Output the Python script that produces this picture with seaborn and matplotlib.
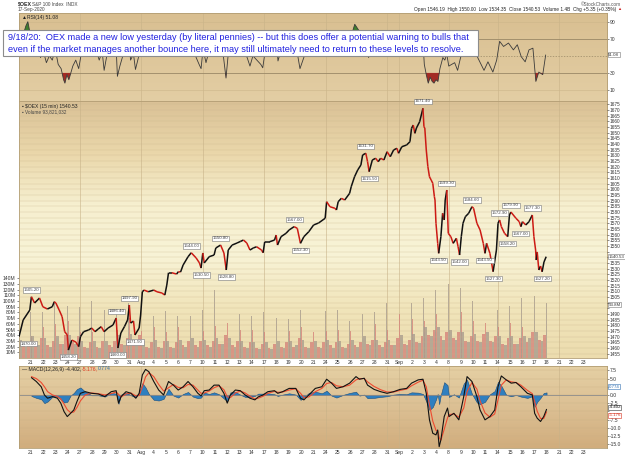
import numpy as np
import seaborn as sns
import matplotlib.pyplot as plt
from matplotlib.collections import LineCollection
from matplotlib.colors import LinearSegmentedColormap
from matplotlib.patches import Rectangle

sns.set_style("white")
plt.rcParams['font.family'] = ['Liberation Sans', 'DejaVu Sans']

# trading days on the axis, Jul 20 .. Sep 23 (index = day position)
day_labels = ["", "21", "22", "23", "24", "27", "28", "29", "30", "31",
              "Aug", "4", "5", "6", "7", "10", "11", "12", "13", "14",
              "17", "18", "19", "20", "21", "24", "25", "26", "27", "28",
              "31", "Sep", "2", "3", "4", "8", "9", "10", "11", "14",
              "15", "16", "17", "18", "21", "22", "23"]
grid_days = [5, 10, 15, 20, 25, 30, 31, 35, 39, 44]

# OEX 15-min path (time in trading days)
price_t = [0.04, 0.38, 0.92, 1.05, 1.31, 1.71, 1.98, 2.35, 2.75, 2.91,
           3.04, 3.31, 3.55, 3.76, 3.97, 4.06, 4.34, 4.66, 4.90, 5.04,
           5.30, 5.70, 5.96, 6.23, 6.49, 6.73, 6.97, 7.29, 7.69, 7.95,
           8.09, 8.33, 8.62, 8.88, 9.02, 9.12, 9.36, 9.48, 9.82, 9.94,
           10.08, 10.22, 10.56, 11.01, 11.27, 11.67, 11.91, 12.07, 12.21, 12.47,
           12.87, 13.01, 13.19, 13.40, 13.80, 14.06, 14.46, 14.73, 14.86, 15.00,
           15.12, 15.52, 15.92, 16.06, 16.45, 16.72, 16.91, 17.07, 17.39, 17.79,
           18.05, 18.31, 18.58, 18.84, 19.11, 19.38, 19.78, 19.91, 20.04, 20.44,
           20.84, 20.97, 21.08, 21.37, 21.77, 22.03, 22.43, 22.69, 22.95, 23.23,
           23.63, 24.02, 24.42, 24.96, 25.08, 25.35, 25.75, 25.88, 26.02, 26.28,
           26.55, 26.95, 27.08, 27.35, 27.61, 27.87, 28.01, 28.27, 28.41, 28.54,
           28.80, 29.07, 29.28, 29.47, 29.74, 30.00, 30.26, 30.53, 30.80, 30.93,
           31.20, 31.59, 31.86, 31.99, 32.13, 32.26, 32.39, 32.65, 32.92, 33.00,
           33.07, 33.19, 33.32, 33.45, 33.59, 33.72, 33.85, 33.90, 33.98, 34.12,
           34.20, 34.38, 34.52, 34.65, 34.73, 34.86, 34.98, 35.19, 35.38, 35.64,
           35.78, 35.90, 36.04, 36.18, 36.37, 36.64, 36.91, 37.04, 37.31, 37.57,
           37.83, 37.97, 38.10, 38.37, 38.63, 38.90, 39.03, 39.16, 39.30, 39.56,
           39.82, 39.96, 40.08, 40.49, 40.76, 40.89, 41.02, 41.29, 41.55, 41.82,
           41.95, 42.09, 42.14, 42.22, 42.35, 42.49, 42.62, 42.77, 42.95]
price_v = [1470.0, 1484.7, 1493.5, 1505.2, 1499.7, 1504.1, 1496.4, 1494.4, 1496.4, 1500.8,
           1499.7, 1493.5, 1487.6, 1474.4, 1471.5, 1458.2, 1467.0, 1465.3, 1461.2, 1470.0,
           1474.4, 1475.9, 1477.6, 1474.4, 1476.8, 1478.8, 1474.4, 1477.6, 1480.3, 1486.4,
           1460.0, 1473.2, 1478.8, 1484.7, 1497.9, 1482.0, 1483.8, 1471.5, 1477.6, 1489.1,
           1509.6, 1511.1, 1509.6, 1511.1, 1509.6, 1508.5, 1506.7, 1515.5, 1526.4, 1526.4,
           1525.2, 1527.3, 1527.0, 1533.2, 1540.5, 1544.0, 1539.4, 1535.0, 1530.5, 1543.8,
           1535.0, 1540.5, 1542.0, 1548.2, 1550.8, 1543.8, 1528.8, 1546.4, 1550.8, 1552.6,
           1553.9, 1555.2, 1552.6, 1546.4, 1548.2, 1549.3, 1546.4, 1544.0, 1553.7, 1553.7,
           1555.2, 1559.6, 1550.8, 1558.2, 1561.1, 1564.1, 1567.0, 1565.6, 1552.3, 1558.2,
           1562.6, 1568.5, 1570.2, 1574.4, 1589.0, 1584.6, 1583.2, 1581.7, 1589.0, 1592.0,
           1590.5, 1596.4, 1602.2, 1611.0, 1617.0, 1621.4, 1630.2, 1631.7, 1624.3, 1615.5,
           1625.8, 1627.3, 1624.3, 1627.3, 1625.8, 1633.1, 1628.7, 1634.6, 1636.1, 1631.7,
           1637.5, 1639.0, 1641.9, 1653.7, 1656.6, 1649.3, 1654.0, 1659.5, 1671.4, 1655.1,
           1654.0, 1634.6, 1619.9, 1611.0, 1608.1, 1605.2, 1593.4, 1590.5, 1570.0, 1552.3,
           1543.5, 1558.2, 1578.8, 1572.9, 1590.5, 1599.3, 1561.1, 1558.2, 1552.3, 1556.7,
           1549.3, 1542.0, 1558.2, 1570.0, 1575.8, 1578.8, 1584.6, 1583.2, 1570.0, 1564.1,
           1552.3, 1543.5, 1552.3, 1543.5, 1527.3, 1546.4, 1570.0, 1572.9, 1567.0, 1561.1,
           1558.2, 1577.3, 1579.9, 1574.4, 1571.4, 1567.0, 1571.4, 1568.5, 1571.4, 1577.3,
           1558.2, 1546.4, 1537.6, 1544.7, 1528.8, 1532.3, 1527.2, 1535.8, 1540.53]
high_idx = [3, 29, 34, 55, 64, 86, 107, 128, 145, 156, 167, 172, 179]
low_idx = [0, 15, 30, 37, 58, 66, 88, 109, 140, 151, 161, 164, 170, 175, 186]

# volume per day (millions): opening bar, morning, midday, early pm, late pm, closing bar
vol_open = [41, 39, 54, 59, 65, 45, 45, 47, 50, 71, 47, 54, 45, 54, 57, 47, 57, 62, 50, 50, 45, 50,
            47, 54, 45, 47, 50, 47, 50, 59, 50, 77, 68, 65, 77, 91, 80, 65, 62, 54, 62, 54, 68]
vol_early = [32, 38, 35, 38, 40, 30, 30, 30, 40, 42, 30, 32, 30, 32, 35, 32, 35, 35, 30, 28, 28, 30,
             30, 32, 30, 32, 30, 32, 38, 32, 32, 40, 42, 55, 55, 50, 45, 42, 45, 38, 38, 38, 45]
vol_mid1 = [22, 25, 22, 25, 28, 20, 20, 22, 25, 30, 20, 20, 20, 22, 22, 22, 25, 22, 20, 18, 18, 20,
            20, 20, 20, 22, 20, 22, 25, 22, 22, 25, 28, 40, 38, 35, 30, 30, 30, 25, 25, 28, 32]
vol_mid2 = [20, 22, 20, 25, 25, 18, 18, 20, 22, 28, 18, 18, 18, 20, 20, 20, 25, 20, 18, 16, 16, 18,
            22, 18, 18, 18, 18, 20, 22, 20, 22, 22, 26, 38, 32, 32, 28, 28, 28, 22, 25, 35, 30]
vol_late = [28, 35, 30, 40, 38, 28, 30, 30, 35, 40, 28, 30, 28, 30, 30, 30, 40, 30, 28, 25, 25, 28,
            35, 28, 28, 28, 25, 28, 32, 28, 35, 32, 38, 50, 45, 45, 38, 42, 38, 35, 35, 45, 40]
vol_close = [80, 80, 100, 91, 89, 100, 85, 82, 97, 91, 74, 82, 74, 74, 85, 120, 106, 77, 74, 80, 71, 68,
             85, 85, 82, 85, 65, 77, 80, 97, 120, 97, 106, 120, 129, 123, 100, 97, 85, 91, 106, 109, 97]

# RSI(14)
rsi_t = [0.04, 0.28, 0.60, 0.76, 0.92, 1.08, 1.31, 1.55, 1.79, 2.03,
         2.27, 2.51, 2.75, 2.99, 3.23, 3.47, 3.67, 3.78, 3.94, 4.10,
         4.26, 4.42, 4.66, 4.90, 5.14, 5.38, 5.62, 5.86, 6.10, 6.33,
         6.57, 6.81, 6.97, 7.21, 7.45, 7.69, 7.93, 8.05, 8.25, 8.49,
         8.73, 8.96, 9.12, 9.36, 9.52, 9.76, 9.92, 10.08, 10.32, 10.64,
         10.96, 11.27, 11.59, 11.91, 12.07, 12.23, 12.55, 12.87, 13.19, 13.51,
         13.82, 14.14, 14.46, 14.70, 14.86, 15.02, 15.26, 15.50, 15.82, 16.06,
         16.37, 16.69, 16.89, 17.09, 17.41, 17.73, 18.05, 18.37, 18.61, 18.84,
         19.08, 19.40, 19.72, 19.88, 20.12, 20.44, 20.76, 21.00, 21.12, 21.39,
         21.71, 22.03, 22.35, 22.67, 22.91, 23.15, 23.39, 23.71, 24.02, 24.34,
         24.82, 25.06, 25.30, 25.62, 25.86, 26.10, 26.41, 26.73, 27.05, 27.37,
         27.69, 28.01, 28.25, 28.49, 28.80, 29.12, 29.44, 29.68, 30.00, 30.32,
         30.56, 30.88, 31.20, 31.59, 31.83, 31.99, 32.31, 32.63, 32.87, 33.03,
         33.19, 33.35, 33.51, 33.67, 33.82, 33.98, 34.14, 34.30, 34.54, 34.70,
         34.86, 35.02, 35.26, 35.50, 35.74, 35.98, 36.22, 36.53, 36.77, 37.09,
         37.41, 37.89, 38.21, 38.61, 38.92, 39.16, 39.48, 39.88, 40.28, 40.60,
         40.92, 41.24, 41.55, 41.87, 42.11, 42.35, 42.67, 42.91]
rsi_v = [55, 70, 85, 90, 78, 60, 55, 62, 48, 55,
         42, 50, 45, 58, 40, 35, 22, 18, 28, 22,
         30, 38, 45, 35, 55, 60, 52, 58, 50, 56,
         45, 55, 33, 52, 58, 62, 66, 26, 38, 50,
         58, 75, 45, 52, 34, 48, 62, 80, 70, 60,
         62, 58, 52, 50, 72, 78, 62, 55, 60, 68,
         70, 62, 48, 40, 35, 58, 42, 55, 52, 62,
         65, 48, 24, 55, 60, 58, 62, 55, 48, 38,
         50, 45, 40, 36, 60, 58, 62, 66, 44, 58,
         62, 65, 68, 55, 35, 45, 55, 58, 64, 62,
         66, 80, 60, 55, 50, 62, 58, 64, 72, 87,
         80, 78, 75, 48, 58, 55, 60, 55, 65, 55,
         62, 55, 60, 62, 62, 75, 65, 72, 78, 40,
         28, 18, 25, 20, 18, 22, 20, 35, 48, 45,
         52, 38, 40, 42, 33, 48, 55, 57, 65, 57,
         47, 33, 43, 31, 45, 67, 61, 65, 57, 63,
         49, 43, 57, 59, 20, 31, 28, 51.08]

# MACD(12,26,9) and its signal line
macd_t = [1.05, 1.45, 1.85, 2.11, 2.37, 2.77, 3.17, 3.44, 3.71, 3.97,
          4.24, 4.50, 4.76, 5.04, 5.43, 5.96, 6.49, 7.03, 7.55, 7.95,
          8.14, 8.35, 8.75, 9.15, 9.55, 9.82, 10.08, 10.34, 10.61, 11.01,
          11.41, 11.81, 12.21, 12.61, 13.00, 13.40, 13.80, 14.20, 14.60, 14.86,
          15.12, 15.52, 15.92, 16.32, 16.72, 16.99, 17.25, 17.65, 18.05, 18.45,
          18.84, 19.24, 19.51, 19.90, 20.30, 20.84, 21.10, 21.50, 22.03, 22.57,
          22.96, 23.23, 23.63, 24.16, 24.69, 25.08, 25.48, 25.88, 26.41, 26.95,
          27.47, 27.75, 28.14, 28.41, 28.94, 29.47, 30.00, 30.53, 31.06, 31.59,
          31.99, 32.53, 32.92, 33.19, 33.45, 33.72, 33.98, 34.12, 34.24, 34.38,
          34.65, 34.92, 35.04, 35.44, 35.84, 36.24, 36.51, 36.91, 37.31, 37.57,
          37.97, 38.37, 38.76, 39.03, 39.30, 39.70, 40.10, 40.49, 40.89, 41.42,
          41.82, 42.01, 42.22, 42.49, 42.75, 42.98]
macd_v = [5.3, 4.1, 2.5, 0.0, -1.0, -0.5, -1.0, -2.5, -5.1, -6.6,
          -5.6, -4.6, -2.0, 0.5, 1.0, 0.5, 0.3, -0.5, 1.0, 1.3,
          -2.5, -0.5, 1.0, 0.5, -1.0, 0.5, 6.1, 7.8, 7.1, 4.1,
          1.5, 0.0, 4.1, 3.0, 1.5, 2.5, 4.1, 2.5, 0.5, -0.3,
          1.3, 1.5, 3.0, 3.0, 0.5, -2.5, 0.0, 1.5, 1.3, 0.0,
          -1.0, -1.5, -0.6, 0.0, 1.0, 1.3, 0.5, 1.0, 2.0, 2.0,
          -1.0, -1.5, 0.0, 2.0, 2.5, 4.8, 3.6, 2.0, 2.5, 3.6,
          5.6, 4.8, 5.1, 3.0, 1.7, 1.0, 0.5, 1.0, 1.7, 2.0,
          3.6, 4.6, 4.8, 0.5, -7.6, -11.7, -12.2, -10.7, -15.8, -13.7,
          -6.6, -4.0, -6.6, -5.6, -7.6, -0.5, 5.6, 4.1, -0.5, -4.6,
          -7.6, -6.6, -4.6, 2.5, 5.8, 4.6, 3.6, 3.8, 2.5, 0.5,
          0.0, -5.6, -7.1, -8.1, -6.6, -4.402]
sig_v = [5.6, 5.0, 3.8, 2.5, 1.0, 0.0, -0.5, -1.2, -2.8, -4.5,
         -5.4, -5.2, -3.8, -1.8, 0.0, 0.6, 0.4, 0.0, 0.4, 0.9,
         0.2, -0.6, 0.3, 0.6, -0.3, -0.2, 2.5, 5.5, 6.8, 5.6,
         3.2, 1.2, 2.2, 3.2, 2.3, 2.2, 3.2, 3.0, 1.5, 0.5,
         0.6, 1.2, 2.2, 2.8, 1.6, -0.6, -0.8, 0.6, 1.2, 0.6,
         -0.4, -1.2, -1.0, -0.4, 0.5, 1.1, 0.8, 0.9, 1.5, 1.9,
         0.5, -0.8, -0.6, 1.0, 2.0, 3.5, 3.8, 2.8, 2.5, 3.0,
         4.6, 5.0, 5.0, 4.0, 2.6, 1.6, 0.9, 0.9, 1.4, 1.8,
         2.8, 3.9, 4.5, 2.5, -3.0, -8.0, -10.8, -11.0, -13.0, -13.8,
         -10.5, -7.0, -6.0, -5.8, -6.8, -4.0, 1.0, 3.8, 1.8, -1.8,
         -5.5, -6.8, -5.8, -1.5, 3.0, 4.6, 4.0, 3.8, 3.0, 1.4,
         0.4, -2.0, -5.0, -7.2, -7.2, -5.176]

note_lines = ["9/18/20:  OEX made a new low yesterday (by literal pennies) -- but this does offer a potential warning to bulls that",
              "even if the market manages another bounce here, it may still ultimately need to return to these levels to resolve."]

W, H = 625, 462
X0, X1 = 18.5, 607
fig = plt.figure(figsize=(W / 100, H / 100), dpi=100)
fig.patch.set_facecolor("white")


def px(x):
    return x / W


def py(y):
    return 1 - y / H


def panel(top, bottom):
    return fig.add_axes([px(X0), py(bottom), (X1 - X0) / W, (bottom - top) / H])


def shade(ax, colors):
    cmap = LinearSegmentedColormap.from_list("bg", colors)
    grad = np.linspace(0, 1, 256).reshape(-1, 1)
    ax.imshow(grad, cmap=cmap, aspect="auto", extent=[0, 1, 0, 1],
              transform=ax.transAxes, zorder=0, origin="upper")


def dress(ax):
    for s in ax.spines.values():
        s.set_color("#b29d74")
        s.set_linewidth(0.6)
    for d in grid_days:
        ax.axvline(d, color="#c8b288", lw=0.5, alpha=0.8, zorder=1)
    ax.tick_params(labelsize=3.6, length=1.2, width=0.4, pad=1, colors="#333333")


def side_box(ax, text, yval, col="#333333", ec="#777777"):
    ax.annotate(text, xy=(1.0, yval), xycoords=("axes fraction", "data"),
                xytext=(1, 0), textcoords="offset points", fontsize=3.2, va="center",
                color=col, annotation_clip=False, zorder=6,
                bbox=dict(boxstyle="square,pad=0.12", fc="white", ec=ec, lw=0.4))


xlim = (0, 47.9)
box_kw = dict(boxstyle="square,pad=0.15", fc="white", ec="#777777", lw=0.4)

# ---- RSI panel
ax_rsi = panel(13, 101)
shade(ax_rsi, ["#d9bf91", "#e3cea4"])
dress(ax_rsi)
for lvl in [10, 90]:
    ax_rsi.axhline(lvl, color="#cdb68a", lw=0.4, zorder=1)
for lvl in [30, 70]:
    ax_rsi.axhline(lvl, color="#9a8866", lw=0.6, zorder=1)
ax_rsi.axhline(50, color="#9a8866", lw=0.5, ls=(0, (2, 2)), zorder=1)
rv = np.array(rsi_v)
ax_rsi.fill_between(rsi_t, rv, 70, where=rv > 70, interpolate=True, color="#3f7f2e", lw=0, zorder=2)
ax_rsi.fill_between(rsi_t, rv, 30, where=rv < 30, interpolate=True, color="#a32b24", lw=0, zorder=2)
sns.lineplot(x=rsi_t, y=rsi_v, ax=ax_rsi, color="#3a3a3a", lw=0.6, estimator=None, sort=False, zorder=3)
ax_rsi.set_xlim(*xlim)
ax_rsi.set_ylim(-2.9, 100.2)
ax_rsi.yaxis.tick_right()
ax_rsi.set_yticks([10, 30, 70, 90])
ax_rsi.set_xticks([])
ax_rsi.set_xlabel("")
ax_rsi.set_ylabel("")
side_box(ax_rsi, f"{rsi_v[-1]:.2f}", rsi_v[-1])
ax_rsi.text(0.006, 0.975, "\u25b2RSI(14) 51.08", transform=ax_rsi.transAxes, fontsize=3.6,
            va="top", color="#222222")

# ---- price + volume panel
ax_vol = panel(101, 358)
shade(ax_vol, ["#dac196", "#ead7aa", "#f6efcf", "#f8f3d6", "#f1e5bb", "#ecdcae"])
dress(ax_vol)
block_edges = [0, 1 / 26, 7 / 26, 13 / 26, 19 / 26, 25 / 26, 1]
blocks = [vol_open, vol_early, vol_mid1, vol_mid2, vol_late, vol_close]
block_cols = ["#d5837a", "#a89c8e", "#d5837a", "#a89c8e", "#d5837a", "#a89c8e"]
days = np.arange(len(vol_open))
for k, vals in enumerate(blocks):
    left = days + block_edges[k]
    width = block_edges[k + 1] - block_edges[k]
    if k == 0:
        width = 0.07
    if k == 5:
        left = days + 1 - 0.07
        width = 0.07
    ax_vol.bar(left, vals, width=width, align="edge", color=block_cols[k], alpha=0.8,
               linewidth=0, zorder=2)
ax_vol.set_ylim(0, 451)
ax_vol.set_yticks(range(10, 141, 10))
ax_vol.set_yticklabels([f"{v}M" for v in range(10, 141, 10)])
ax_vol.set_xlim(*xlim)
ax_vol.set_xticks(range(len(day_labels)))
ax_vol.set_xticklabels(day_labels)
ax_vol.tick_params(axis="x", length=0, pad=1.5)

ax_px = ax_vol.twinx()
ax_px.set_ylim(1451.2, 1677.8)
price_ticks = list(range(1455, 1676, 5))
ax_px.set_yticks(price_ticks)
# the last-value boxes sit on top of these rows
ax_px.set_yticklabels(["" if p in (1495, 1500, 1540, 1545) else str(p) for p in price_ticks])
ax_px.grid(axis="y", color="#c9b58c", lw=0.35, alpha=0.6)
ax_px.tick_params(labelsize=3.4, length=1.2, width=0.4, pad=1, colors="#333333")
for s in ax_px.spines.values():
    s.set_visible(False)
pt = np.array(price_t)
pv = np.array(price_v)
segs = np.stack([np.column_stack([pt[:-1], pv[:-1]]), np.column_stack([pt[1:], pv[1:]])], axis=1)
seg_cols = np.where(pv[1:] >= pv[:-1], "#111111", "#cc1a14")
ax_px.add_collection(LineCollection(segs, colors=seg_cols, linewidths=1.1, zorder=4))
ax_px.set_xlim(*xlim)
for i in high_idx:
    ax_px.annotate(f"{price_v[i]:.2f}", xy=(price_t[i], price_v[i]), xytext=(0, 3.5),
                   textcoords="offset points", ha="center", va="bottom", fontsize=3.2,
                   color="#444444", bbox=box_kw, zorder=5)
for i in low_idx:
    # the first label is kept inside the panel
    ax_px.annotate(f"{price_v[i]:.2f}", xy=(price_t[i], price_v[i]),
                   xytext=(1.5 if i == 0 else 0, -3.5), textcoords="offset points",
                   ha="left" if i == 0 else "center", va="top", fontsize=3.2,
                   color="#444444", bbox=box_kw, zorder=5)
side_box(ax_px, f"{price_v[-1]:.2f}", price_v[-1])
side_box(ax_vol, "93.8M", 93.8)
ax_px.text(0.006, 0.99, "\u25aa $OEX (15 min) 1540.53", transform=ax_px.transAxes,
           fontsize=3.6, va="top", color="#222222")
ax_px.text(0.006, 0.968, "\u25aa Volume 93,821,032", transform=ax_px.transAxes,
           fontsize=3.4, va="top", color="#444444")

# ---- MACD panel
ax_macd = panel(366, 448)
shade(ax_macd, ["#e5d0a4", "#dcc094", "#d1ad7d"])
dress(ax_macd)
macd_ticks = np.arange(-15, 8, 2.5)
for lvl in macd_ticks:
    ax_macd.axhline(lvl, color="#c9b084", lw=0.35, alpha=0.7, zorder=1)
hist = np.array(macd_v) - np.array(sig_v)
ax_macd.fill_between(macd_t, 0, hist, color="#2f7fbf", edgecolor="#1b4f7e", lw=0.4, zorder=2)
ax_macd.axhline(0, color="#8c8c8c", lw=0.6, zorder=2)
sns.lineplot(x=macd_t, y=sig_v, ax=ax_macd, color="#ee4a30", lw=0.8, estimator=None, sort=False, zorder=3)
sns.lineplot(x=macd_t, y=macd_v, ax=ax_macd, color="#111111", lw=0.8, estimator=None, sort=False, zorder=4)
ax_macd.set_xlim(*xlim)
ax_macd.set_ylim(-16.2, 8.84)
ax_macd.yaxis.tick_right()
ax_macd.set_yticks(macd_ticks)
ax_macd.set_yticklabels(["" if v in (2.5, -5.0) else f"{v:.1f}" for v in macd_ticks])
ax_macd.set_xticks(range(len(day_labels)))
ax_macd.set_xticklabels(day_labels)
ax_macd.tick_params(axis="x", length=0, pad=1.5)
ax_macd.set_xlabel("")
ax_macd.set_ylabel("")
side_box(ax_macd, f"{macd_v[-1]:.3f}", -3.75, "#111111", "#333333")
side_box(ax_macd, f"{sig_v[-1]:.3f}", -6.25, "#d6301c", "#d6301c")
side_box(ax_macd, f"{hist[-1]:.3f}", 2.5, "#2f6fb0", "#2f6fb0")
fig.text(px(18.5 + 4), py(369), "\u2014 MACD(12,26,9) -4.402,", fontsize=3.7, va="center", color="#222222")
fig.text(px(82), py(369), "-5.176,", fontsize=3.7, va="center", color="#e03a22")
fig.text(px(98), py(369), "0.774", fontsize=3.7, va="center", color="#2f6fb0")

# ---- header
fig.text(px(18), py(4), "$OEX", fontsize=3.8, fontweight="bold", va="center")
fig.text(px(32), py(4), "S&P 100 Index  INDX", fontsize=3.4, va="center", color="#444444")
fig.text(px(18), py(9.5), "17-Sep-2020", fontsize=3.4, va="center", color="#444444")
fig.text(px(621), py(4), "\u00a9StockCharts.com", fontsize=3.4, va="center", ha="right", color="#555555")
fig.text(px(616), py(9.5), "Open 1546.19  High 1550.00  Low 1534.35  Close 1540.53  Volume 1.4B  Chg +5.35 (+0.35%)",
         fontsize=3.4, va="center", ha="right", color="#222222")
fig.text(px(621), py(9.5), "\u25b2", fontsize=3.0, va="center", ha="right", color="#cc2222")

# ---- note box
fig.add_artist(Rectangle((px(3), py(56)), (478 - 3) / W, (56 - 30) / H, transform=fig.transFigure,
                         facecolor="white", edgecolor="#8c8c8c", lw=0.8, zorder=10))
fig.text(px(8), py(37), note_lines[0], fontsize=6.6, color="#2020e0", va="center", zorder=11)
fig.text(px(8), py(49), note_lines[1], fontsize=6.6, color="#2020e0", va="center", zorder=11)

fig.savefig("out.png", dpi=100)
